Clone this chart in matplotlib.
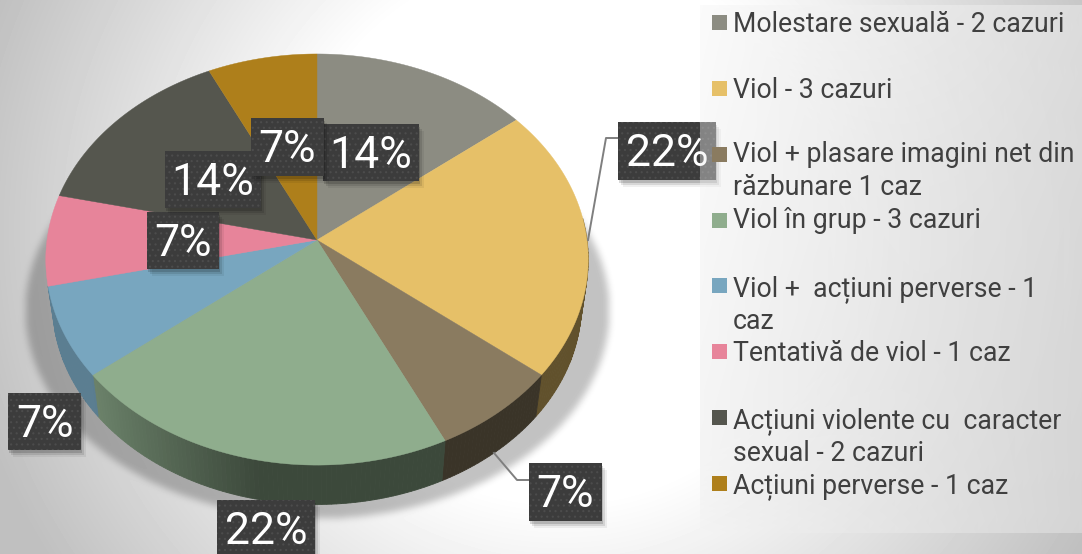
import numpy as np
import matplotlib
matplotlib.use('Agg')
import matplotlib.pyplot as plt
from matplotlib.patches import Rectangle, Polygon

# Chart data
categories = ['Molestare sexuală - 2 cazuri', 'Viol - 3 cazuri',
              'Viol + plasare imagini net din\nrăzbunare 1 caz', 'Viol în grup - 3 cazuri',
              'Viol +  acțiuni perverse - 1\ncaz', 'Tentativă de viol - 1 caz',
              'Acțiuni violente cu  caracter\nsexual - 2 cazuri', 'Acțiuni perverse - 1 caz']
cases = [2, 3, 1, 3, 1, 1, 2, 1]
percent_labels = ['14%', '22%', '7%', '22%', '7%', '7%', '14%', '7%']
colors = ['#8c8c82', '#e6c068', '#8a7b60', '#8fad8d', '#78a6bf', '#e7849a', '#55564e', '#ae7f1b']

# Label boxes in pixels: left, right, top, bottom
label_boxes = [(323, 419, 124, 181), (618, 716, 122, 180), (529, 602, 463, 521),
               (217, 315, 500, 560), (8, 81, 393, 450), (147, 219, 212, 269),
               (165, 261, 151, 208), (251, 324, 118, 176)]
legend_marker_tops = [15, 81, 147, 213, 278, 344, 410, 476]
legend_first_baselines = [32, 98, 162, 228, 296, 361, 428, 493]

W, H = 1082, 554
CX, CY = 317, 240
RX, RY, K = 270, 203.7, 0.095


def project(theta, shrink=1.0, drop=0.0):
    # tilted circle, theta clockwise from 12 o'clock
    s, t = np.sin(theta), np.cos(theta)
    w = 1 + K * t
    return CX + shrink * RX * s / w, CY - shrink * RY * t / w + drop


def blur(img, n, passes=3):
    kernel = np.ones(n) / n
    for _ in range(passes):
        img = np.apply_along_axis(lambda r: np.convolve(r, kernel, mode='same'), 0, img)
        img = np.apply_along_axis(lambda r: np.convolve(r, kernel, mode='same'), 1, img)
    return img


fig = plt.figure(figsize=(W / 100, H / 100), dpi=100)
ax = fig.add_axes([0, 0, 1, 1])
ax.set_xlim(0, W)
ax.set_ylim(H, 0)
ax.axis('off')

# Background with the soft pie shadow
yy, xx = np.mgrid[0:H, 0:W]
dist = np.hypot(xx - 560, yy - 230)
bg = 1 - 0.25 * np.clip((dist - 270) / 340, 0, 1)
mask = (((xx - 317) / 292) ** 2 + ((yy - 310) / 208) ** 2 < 1).astype(float)
mask[yy > 520] = 0
mask[yy < 190] = 0
shadow = blur(mask, 7)
bg = bg * (1 - 0.24 * shadow)
ax.imshow(bg, cmap='gray', vmin=0, vmax=1, extent=(0, W, H, 0), aspect='auto', zorder=0)

# Slice angles from the case counts
edges = np.concatenate([[0], np.cumsum(cases)]) / sum(cases) * 2 * np.pi

# Pie side, only the near slices show it
for i, col in enumerate(colors[:5]):
    base = np.array(matplotlib.colors.to_rgb(col))
    th = np.linspace(edges[i], edges[i + 1], int((edges[i + 1] - edges[i]) * 60) + 2)
    for a, b in zip(th[:-1], th[1:]):
        if np.cos((a + b) / 2) > 0.1:
            continue
        s = np.sin((a + b) / 2)
        shade = np.interp(s, [-0.8, -0.2, 1], [0.76, 0.42, 0.42])
        x1, y1 = project(np.array([a, b]))
        x2, y2 = project(np.array([b, a]), 0.975, 45)
        ax.add_patch(Polygon(np.column_stack([np.r_[x1, x2], np.r_[y1, y2]]),
                             facecolor=base * shade, edgecolor=base * shade, lw=0.6, zorder=2))

# Pie top
for i, col in enumerate(colors):
    th = np.linspace(edges[i], edges[i + 1], 80)
    px, py = project(th)
    pts = np.column_stack([np.r_[CX, px], np.r_[CY, py]])
    ax.add_patch(Polygon(pts, facecolor=col, edgecolor=col, lw=0.3, zorder=3))

# Leader lines
ax.plot([588, 606, 618], [240, 138, 138], color='#7f7f7f', lw=1.4, zorder=4)
ax.plot([494, 517, 529], [453, 480, 480], color='#7f7f7f', lw=1.4, zorder=4)

# Percentage labels
plt.rcParams['hatch.linewidth'] = 0.8
for n, (txt, box) in enumerate(zip(percent_labels, label_boxes)):
    l, r, t, b = box
    z = 5 + n * 0.1
    for off, a in [(7, 0.06), (5, 0.1), (3, 0.15)]:
        ax.add_patch(Rectangle((l + off - 2, t + off), r - l, b - t, facecolor='black',
                               alpha=a, lw=0, zorder=z))
    ax.add_patch(Rectangle((l, t), r - l, b - t, facecolor='#3c3c3c', edgecolor='#4c4c4c',
                           hatch='...', lw=0, zorder=z))
    ax.text((l + r) / 2, t + 44, txt, color='white', fontsize=32, family='Roboto',
            ha='center', va='baseline', zorder=z + 0.05)

# Legend panel, slightly see-through
py_, px_ = np.mgrid[5:533, 700:W]
u = (px_ - 700) / 382
v = (py_ - 5) / 528
target = 0.985 - 0.12 * u - 0.03 * v
alpha = 0.4 + 0.4 * u
gray = np.clip((target - (1 - alpha) * bg[5:533, 700:W]) / alpha, 0, 1)
rgba = np.dstack([gray, gray, gray, alpha])
ax.imshow(rgba, extent=(700, W, 533, 5), aspect='auto', zorder=7)
ax.set_xlim(0, W)
ax.set_ylim(H, 0)

# Legend
for name, col, top, base in zip(categories, colors, legend_marker_tops, legend_first_baselines):
    ax.add_patch(Rectangle((712, top), 15, 15, facecolor=col, lw=0, zorder=8))
    for j, line in enumerate(name.split('\n')):
        ax.text(733, base + j * 33, line, color='#404040', fontsize=19.2, family='Roboto',
                ha='left', va='baseline', zorder=8)

plt.savefig('out.png', dpi=100)
